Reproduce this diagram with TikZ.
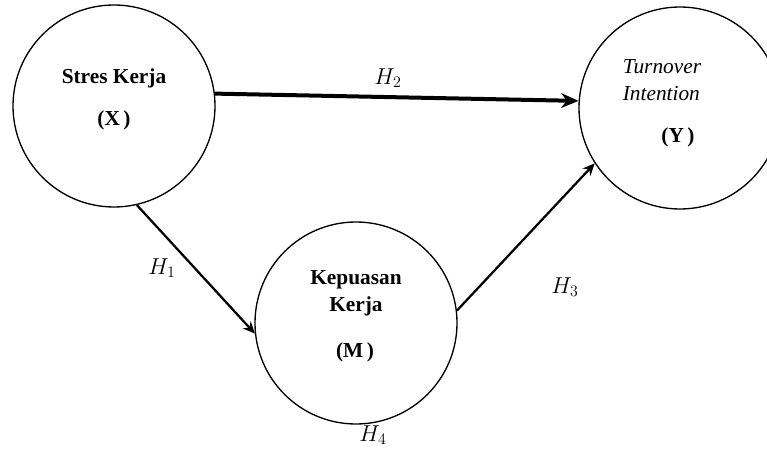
\documentclass[tikz,border=0pt]{standalone}
\usepackage{fontspec}
\setmainfont{Liberation Serif}
\usetikzlibrary{arrows.meta, positioning}

\begin{document}
\begin{tikzpicture}[
  x=0.75pt, y=-0.75pt,
  construct/.style={
    circle, draw, line width=1pt, minimum size=151.5pt, inner sep=0pt,
  },
  vartext/.style={font=\fontsize{16}{20}\selectfont, inner sep=0pt},
  hyp/.style={font=\fontsize{17.5}{20}\selectfont, inner sep=0pt},
  link/.style={line width=1.7pt, -{Stealth[length=9pt, width=8pt]}},
]
  \useasboundingbox (0,0) rectangle (767,452);

  \node[construct] (x) at (114,106) {};
  \node[construct] (y) at (680,108) {};
  \node[construct] (m) at (356,323) {};

  \node[vartext] (xname) at (114,78) {\textbf{Stres Kerja}};
  \node[vartext] (xcode) at (114,120) {\textbf{(X\,)}};
  \node[vartext, align=left] (yname) at (662,80)
    {\textit{Turnover}\\\textit{Intention}};
  \node[vartext] (ycode) at (678,137) {\textbf{(Y\,)}};
  \node[vartext, align=center] (mname) at (356,293)
    {\textbf{Kepuasan}\\\textbf{Kerja}};
  \node[vartext] (mcode) at (355,352) {\textbf{(M\,)}};

  % Paths between the variables
  \draw[link, line width=3pt, -{Stealth[length=13pt, width=11pt]}] (x.7) -- (y.176);
  \draw[link] (x.-77) -- (m.186);
  \draw[link] (m.7) -- (y.213);

  \node[hyp] (h2) at (388,78) {$H_2$};
  \node[hyp] (h1) at (162,268) {$H_1$};
  \node[hyp] (h3) at (565,287) {$H_3$};
  \node[hyp] (h4) at (373,435) {$H_4$};
\end{tikzpicture}
\end{document}
